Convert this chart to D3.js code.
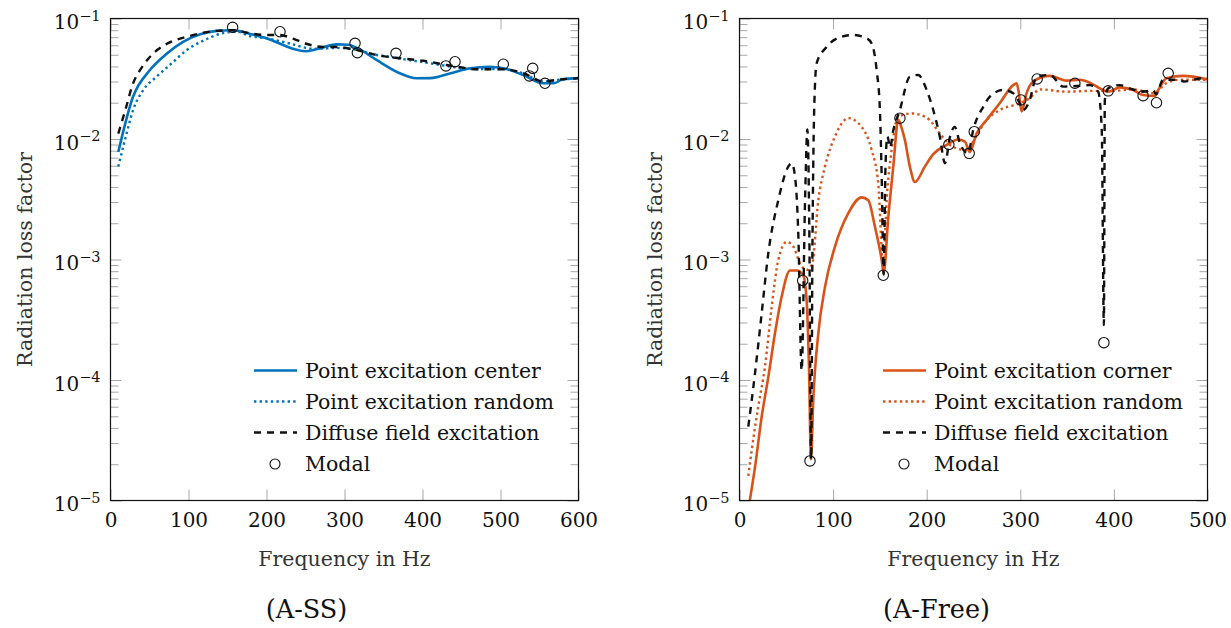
<!DOCTYPE html>
<html lang="en">
<head>
    <meta charset="UTF-8">
    <script src="https://d3js.org/d3.v7.min.js"></script>
    <style>
        body { margin: 0; background: #fff; }
        svg text { font-family: "DejaVu Serif", serif; fill: #111; }
        .tick line { stroke: #a8a8a8; stroke-width: 1; }
        .axis-label { fill: #333; }
    </style>
</head>
<body>
<svg id="chart" width="1231" height="628"></svg>
<script>
// ---- data: [frequency Hz, radiation loss factor] ----
const xTicksAss = [0, 100, 200, 300, 400, 500, 600];
const xTicksFree = [0, 100, 200, 300, 400, 500];
const yTicks = [1e-5, 1e-4, 1e-3, 1e-2, 1e-1];

const assCenter = [[10,0.0078],[29,0.0225],[50,0.037],[72,0.051],[93,0.064],[115,0.074],[136,0.079],
    [157,0.080],[179,0.0745],[200,0.0686],[222,0.060],[236,0.0555],[250,0.0535],[264,0.0555],[290,0.061],
    [305,0.0605],[316,0.057],[341,0.0453],[371,0.0351],[392,0.0319],[410,0.032],[435,0.035],[461,0.0386],
    [486,0.0398],[504,0.0386],[529,0.034],[555,0.029],[568,0.029],[580,0.0313],[600,0.032]];
const assRandom = [[10,0.0059],[19,0.0101],[29,0.0174],[42,0.0255],[59,0.0329],[76,0.0411],[98,0.0548],
    [119,0.0655],[140,0.0744],[162,0.0777],[179,0.0715],[200,0.0686],[230,0.062],[260,0.056],[290,0.057],
    [315,0.055],[340,0.050],[358,0.048],[385,0.045],[410,0.0425],[435,0.040],[470,0.038],[504,0.038],
    [529,0.035],[555,0.030],[575,0.031],[600,0.032]];
const assDiffuse = [[10,0.0111],[19,0.0174],[29,0.029],[38,0.0374],[49,0.0468],[61,0.0555],[78,0.0642],
    [98,0.0706],[119,0.0762],[136,0.079],[158,0.080],[179,0.0753],[200,0.073],[217,0.073],[234,0.068],
    [250,0.062],[273,0.058],[290,0.058],[311,0.0555],[341,0.0498],[371,0.0468],[401,0.0446],[431,0.0411],
    [444,0.0398],[470,0.0379],[504,0.0379],[529,0.0352],[555,0.030],[572,0.031],[600,0.032]];
const assModal = [[156.6,0.0845],[217.3,0.0777],[313.5,0.0622],[316.5,0.052],[366,0.0514],[430,0.0404],
    [441.7,0.0438],[503.6,0.0417],[537,0.0334],[541.3,0.0386],[557,0.029]];

const freeCorner = [[11,1.0e-5],[16.6,1.9e-5],[23.7,4.95e-5],[30.8,1.06e-4],[37.9,2.44e-4],[45,4.9e-4],
    [54,8.1e-4],[61,8.1e-4],[68,7.4e-4],[71.7,4.6e-4],[74.2,1.3e-4],[76.4,2.2e-5],[78.8,6.8e-5],[84.2,2.44e-4],
    [91.3,5.9e-4],[102,1.28e-3],[116,2.4e-3],[130.5,3.28e-3],[137.6,3.1e-3],[144.7,1.87e-3],[151.9,9.9e-4],
    [154,7.7e-4],[159,2.26e-3],[164.3,5.9e-3],[169.6,0.0144],[173,0.0125],[176.7,9.8e-3],[182,5.9e-3],
    [187.4,4.4e-3],[198,5.9e-3],[207,7.5e-3],[221,8.9e-3],[233.7,9.9e-3],[240.8,9.5e-3],[246,7.8e-3],
    [253.3,0.0111],[264,0.0144],[278,0.0198],[292.4,0.028],[296,0.029],[298.5,0.024],[301.4,0.0169],
    [306.7,0.024],[313.8,0.030],[331.6,0.0334],[349.4,0.0305],[363.6,0.031],[374.3,0.0293],[385,0.0263],
    [393.8,0.0247],[406.3,0.0268],[420.5,0.0255],[431.2,0.0232],[443.7,0.0228],[448,0.026],[456.2,0.0319],
    [474,0.0334],[500,0.0313]];
const freeRandom = [[9.4,1.6e-5],[13,2.6e-5],[20,6e-5],[27.2,1.29e-4],[34.4,4.05e-4],[41.4,9.9e-4],
    [50.4,1.4e-3],[57.5,1.28e-3],[64.6,9.3e-4],[71.8,8.2e-4],[77.8,9.3e-4],[84.2,3.1e-3],[91.3,5.9e-3],
    [102,0.0105],[116.2,0.0149],[130.5,0.0126],[141.2,8.1e-3],[148.2,4.3e-3],[153.6,8.7e-4],[157.2,3.1e-3],
    [162.5,8.1e-3],[169.6,0.0153],[183.9,0.0163],[198,0.0153],[203,0.0144],[214,0.0111],[228,8.6e-3],
    [242.6,8.1e-3],[247,8.9e-3],[264,0.0144],[278,0.0174],[299.5,0.0198],[310,0.0218],[321,0.0258],
    [349.4,0.0247],[377.8,0.0251],[399,0.0251],[420.5,0.0258],[441.9,0.024],[456,0.029],[470,0.031],[500,0.031]];
const freeDiffuse = [[9.4,4.1e-5],[16.6,1.14e-4],[23.7,3.58e-4],[30.8,1.13e-3],[41.4,3.1e-3],[52.1,5.9e-3],
    [55.7,6.3e-3],[59.3,4.9e-3],[62.8,1.65e-3],[66.4,1.2e-4],[70,3e-3],[72.5,0.012],[74.5,2e-3],[76.5,2.2e-5],
    [78,1.5e-3],[80,0.02],[82.4,0.0425],[93,0.058],[107,0.0698],[121.5,0.073],[135.8,0.0686],[141.2,0.062],
    [146.5,0.0374],[150,0.0174],[151.9,4.9e-3],[154,7.5e-4],[156,6e-3],[158,0.0105],[161,0.0085],[164,0.0115],
    [171.3,0.0174],[182,0.0329],[191,0.034],[200,0.0255],[207,0.0174],[214,0.0105],[219.5,6.3e-3],[225,0.0105],
    [230,0.0126],[235.5,9.2e-3],[244.3,7.6e-3],[249.7,0.0119],[260.4,0.0185],[267.5,0.0225],[281.7,0.0255],
    [292.4,0.024],[299.5,0.0198],[303,0.0174],[310,0.021],[317.4,0.0329],[331.6,0.034],[345.8,0.0272],
    [360,0.0275],[374.3,0.028],[383.2,0.0247],[387,0.012],[389.3,2.86e-4],[390.3,0.021],[393.9,0.0263],
    [406.3,0.028],[417,0.0263],[431.2,0.0247],[441.9,0.0255],[445,0.0235],[452.6,0.031],[467,0.031],
    [475,0.030],[495.6,0.032],[500,0.032]];
const freeModal = [[67.5,6.7e-4],[75.3,2.13e-5],[153.6,7.4e-4],[171.4,0.0149],[223.7,9.0e-3],[245.4,7.6e-3],
    [250.8,0.0115],[300.6,0.0211],[318,0.0315],[358.3,0.029],[389.3,2.04e-4],[393.9,0.0251],[431.2,0.0229],
    [445.5,0.020],[458,0.0351]];

const svg = d3.select("#chart");
const plotTop = 18.5, plotBottom = 500.5;
const serif = "DejaVu Serif, serif";

function minorTicks() {
    const out = [];
    for (let e = -5; e < -1; e++)
        for (let k = 2; k <= 9; k++) out.push(k * Math.pow(10, e));
    return out;
}

function drawPanel(cfg) {
    const x = d3.scaleLinear().domain([0, cfg.xMax]).range([cfg.left, cfg.right]);
    const y = d3.scaleLog().domain([1e-5, 1e-1]).range([plotBottom, plotTop]);
    const g = svg.append("g");
    const clipId = "clip" + cfg.id;

    svg.append("clipPath").attr("id", clipId).append("rect")
        .attr("x", cfg.left).attr("y", plotTop)
        .attr("width", cfg.right - cfg.left).attr("height", plotBottom - plotTop);

    // ticks (inside, grey)
    const xb = g.append("g").attr("transform", "translate(0," + plotBottom + ")")
        .call(d3.axisBottom(x).tickValues(cfg.xTicks).tickSizeInner(-11).tickSizeOuter(0).tickPadding(12.5));
    xb.attr("font-family", serif).attr("font-size", 20);
    g.append("g").attr("transform", "translate(0," + plotTop + ")")
        .call(d3.axisTop(x).tickValues(cfg.xTicks).tickSizeInner(-11).tickSizeOuter(0).tickFormat(""));

    const yl = g.append("g").attr("transform", "translate(" + cfg.left + ",0)")
        .call(d3.axisLeft(y).tickValues(yTicks).tickSizeInner(-11).tickSizeOuter(0).tickPadding(10));
    yl.attr("font-family", serif).attr("font-size", 20);
    yl.selectAll(".tick text").each(function(d) {
        const t = d3.select(this);
        t.text("10").attr("dy", "10px");
        t.append("tspan").attr("dy", "-8.5px").attr("font-size", 14.5)
            .text("\u2212" + Math.abs(Math.round(Math.log10(d))));
    });
    g.append("g").attr("transform", "translate(" + cfg.left + ",0)")
        .call(d3.axisLeft(y).tickValues(minorTicks()).tickSizeInner(-8).tickSizeOuter(0).tickFormat(""));
    g.append("g").attr("transform", "translate(" + cfg.right + ",0)")
        .call(d3.axisRight(y).tickValues(yTicks).tickSizeInner(-11).tickSizeOuter(0).tickFormat(""));
    g.append("g").attr("transform", "translate(" + cfg.right + ",0)")
        .call(d3.axisRight(y).tickValues(minorTicks()).tickSizeInner(-8).tickSizeOuter(0).tickFormat(""));
    g.selectAll(".domain").remove();

    // curves
    const line = d3.line().x(d => x(d[0])).y(d => y(d[1])).curve(d3.curveMonotoneX);
    const plot = g.append("g").attr("clip-path", "url(#" + clipId + ")");
    cfg.series.forEach(s => {
        plot.append("path").datum(s.data)
            .attr("d", line)
            .attr("fill", "none")
            .attr("stroke", s.color)
            .attr("stroke-width", s.width)
            .attr("stroke-dasharray", s.dash)
            .attr("stroke-linejoin", "round");
    });
    g.selectAll(".modal").data(cfg.modal).enter().append("circle")
        .attr("cx", d => x(d[0])).attr("cy", d => y(d[1])).attr("r", 5.2)
        .attr("fill", "none").attr("stroke", "#111").attr("stroke-width", 1.1);

    // frame
    g.append("rect").attr("x", cfg.left).attr("y", plotTop)
        .attr("width", cfg.right - cfg.left).attr("height", plotBottom - plotTop)
        .attr("fill", "none").attr("stroke", "#111").attr("stroke-width", 1.2);

    // axis labels
    g.append("text").attr("class", "axis-label")
        .attr("x", (cfg.left + cfg.right) / 2).attr("y", 566)
        .attr("text-anchor", "middle").attr("font-size", 20.5).text("Frequency in Hz");
    g.append("text").attr("class", "axis-label")
        .attr("transform", "translate(" + cfg.yLabelX + "," + (plotTop + plotBottom) / 2 + ") rotate(-90)")
        .attr("text-anchor", "middle").attr("font-size", 20.5).text("Radiation loss factor");
    g.append("text")
        .attr("x", cfg.captionX).attr("y", 618)
        .attr("text-anchor", "middle").attr("font-size", 25.5).text(cfg.caption);

    // legend
    const lg = g.append("g");
    const rows = [370.5, 401.5, 432.5, 463.5];
    cfg.series.forEach((s, i) => {
        lg.append("line").attr("x1", cfg.legX).attr("x2", cfg.legX + 43)
            .attr("y1", rows[i]).attr("y2", rows[i])
            .attr("stroke", s.color).attr("stroke-width", s.width).attr("stroke-dasharray", s.dash);
        lg.append("text").attr("x", cfg.legX + 51).attr("y", rows[i] + 7)
            .attr("font-size", 20.5).text(s.name);
    });
    lg.append("circle").attr("cx", cfg.legX + 21).attr("cy", rows[3] + 0.5).attr("r", 5)
        .attr("fill", "none").attr("stroke", "#111").attr("stroke-width", 1.1);
    lg.append("text").attr("x", cfg.legX + 51).attr("y", rows[3] + 7)
        .attr("font-size", 20.5).text("Modal");
}

const blue = "#0072BD", orange = "#D95319";

drawPanel({
    id: "ass", left: 110.5, right: 578.5, xMax: 600, xTicks: xTicksAss,
    yLabelX: 32, captionX: 306.5, caption: "(A-SS)", legX: 254,
    modal: assModal,
    series: [
        { name: "Point excitation center", data: assCenter, color: blue, width: 2.6, dash: null },
        { name: "Point excitation random", data: assRandom, color: blue, width: 2.4, dash: "2.4,3.2" },
        { name: "Diffuse field excitation", data: assDiffuse, color: "#111", width: 2.4, dash: "7,6" }
    ]
});

drawPanel({
    id: "free", left: 739.5, right: 1207.5, xMax: 500, xTicks: xTicksFree,
    yLabelX: 662, captionX: 936.5, caption: "(A-Free)", legX: 883,
    modal: freeModal,
    series: [
        { name: "Point excitation corner", data: freeCorner, color: orange, width: 2.6, dash: null },
        { name: "Point excitation random", data: freeRandom, color: orange, width: 2.4, dash: "2.4,3.2" },
        { name: "Diffuse field excitation", data: freeDiffuse, color: "#111", width: 2.4, dash: "7,6" }
    ]
});
</script>
</body>
</html>
